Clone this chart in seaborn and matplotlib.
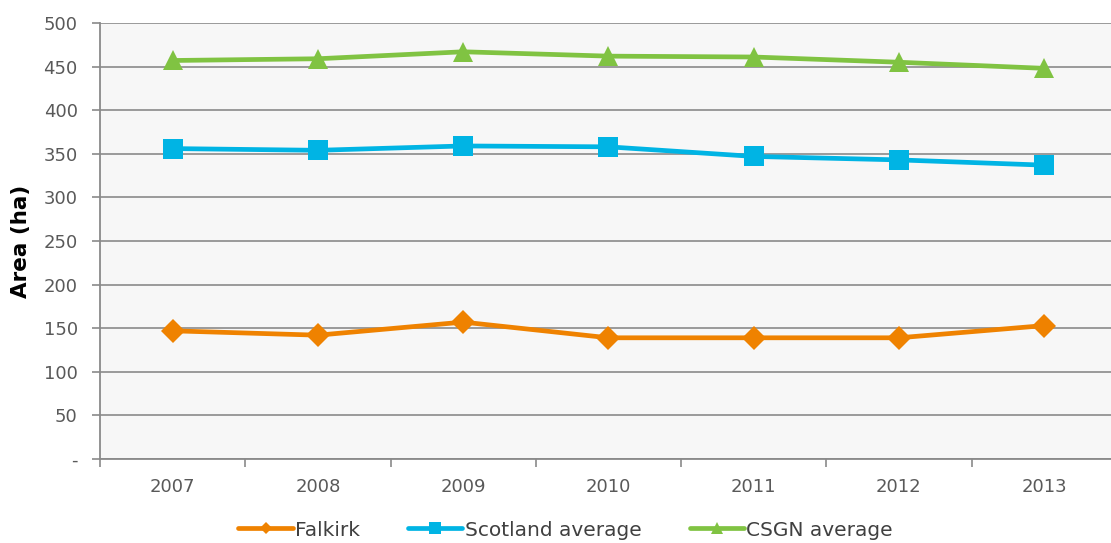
import matplotlib
matplotlib.use("Agg")
import matplotlib.pyplot as plt
import seaborn as sns
import pandas as pd
import numpy as np

years = ["2007", "2008", "2009", "2010", "2011", "2012", "2013"]
falkirk = [147, 142, 157, 139, 139, 139, 153]
scotland = [356, 354, 359, 358, 347, 343, 337]
csgn = [457, 459, 467, 462, 461, 455, 448]
series_names = ["Falkirk", "Scotland average", "CSGN average"]
y_ticks = [0, 50, 100, 150, 200, 250, 300, 350, 400, 450, 500]

colors = {"Falkirk": "#EF8200", "Scotland average": "#00B4E4", "CSGN average": "#80C342"}
markers = {"Falkirk": "D", "Scotland average": "s", "CSGN average": "^"}
msizes = {"Falkirk": 12, "Scotland average": 14.5, "CSGN average": 15}

df = pd.DataFrame({
    "year": years * 3,
    "pos": list(range(len(years))) * 3,
    "series": sum([[n] * len(years) for n in series_names], []),
    "value": falkirk + scotland + csgn,
})

sns.set_theme(style="white")
plt.rcParams["font.family"] = ["DejaVu Sans"]

fig = plt.figure(figsize=(11.11, 5.43), dpi=100)
ax = fig.add_axes([100 / 1111, 1 - 459 / 543, 1011 / 1111, 436 / 543])
ax.set_facecolor("#F7F7F7")

for name in series_names:
    sub = df[df["series"] == name]
    sns.lineplot(data=sub, x="pos", y="value", ax=ax, color=colors[name],
                 linewidth=3.4, marker=markers[name], markersize=msizes[name],
                 markeredgewidth=0, label=name, zorder=3)

ax.set_ylim(0, 500)
ax.set_xlim(-0.5, 6.46)
ax.set_yticks(y_ticks)
ax.set_yticklabels(["-" if v == 0 else str(v) for v in y_ticks])
ax.yaxis.grid(True, color="#8A8A8A", linewidth=1.2)
ax.set_axisbelow(True)

ax.set_xticks(range(len(years)))
ax.set_xticklabels(years)
ax.set_xticks(np.arange(-0.5, 6.5, 1.0), minor=True)
ax.tick_params(axis="x", which="major", length=0, pad=14, labelsize=13, labelcolor="#595959")
ax.tick_params(axis="x", which="minor", length=6, width=1.2, color="#8A8A8A", direction="out")
ax.tick_params(axis="y", which="major", length=6, width=1.2, color="#8A8A8A", direction="out",
               pad=10, labelsize=13, labelcolor="#595959")
ax.tick_params(axis="y", left=True)
ax.tick_params(axis="x", which="minor", bottom=True)

for s in ["top", "right"]:
    ax.spines[s].set_visible(False)
for s in ["left", "bottom"]:
    ax.spines[s].set_color("#8A8A8A")
    ax.spines[s].set_linewidth(1.3)

ax.set_xlabel("")
ax.set_ylabel("Area (ha)", fontsize=15.5, fontweight="bold", color="black")
ax.yaxis.set_label_coords(-0.068, 0.5)

handles, labels = ax.get_legend_handles_labels()
ax.legend(handles, labels, loc="center", bbox_to_anchor=(0.509, (543 - 530) / 543),
          bbox_transform=fig.transFigure, ncol=3, frameon=False, fontsize=14.5,
          handlelength=2.7, columnspacing=2.4, handletextpad=0.1, markerscale=0.55,
          labelcolor="#404040")

fig.savefig("out.png", dpi=100)
